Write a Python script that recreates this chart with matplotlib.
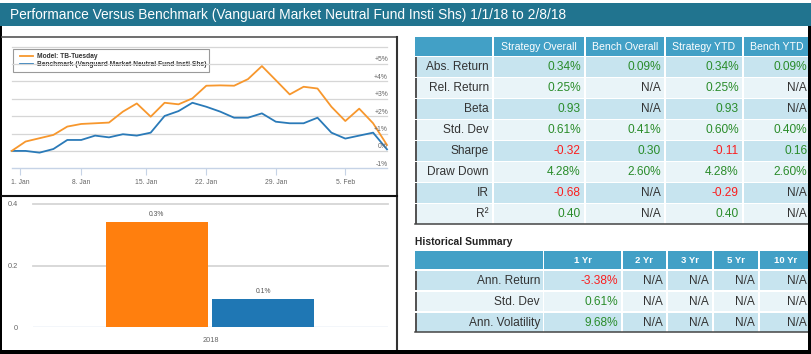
import matplotlib.pyplot as plt
from matplotlib.patches import Rectangle

# ---- data ----
title = "Performance Versus Benchmark (Vanguard Market Neutral Fund Insti Shs) 1/1/18 to 2/8/18"
model_name = "Model: TB-Tuesday"
bench_name = "Benchmark (Vanguard Market Neutral Fund Insti Shs)"

# cumulative return in %, one point per trading day (ordinal axis)
model = [0.0, 0.54, 0.73, 0.92, 1.40, 1.55, 1.59, 1.63, 2.26, 2.73, 1.97, 2.77, 2.68, 3.02,
         3.75, 3.77, 3.75, 4.13, 4.88, 4.07, 3.25, 3.69, 3.59, 2.54, 1.72, 2.43, 1.59, 0.34]
bench = [0.0, 0.0, -0.10, 0.11, 0.63, 0.63, 0.88, 0.78, 0.96, 0.88, 1.05, 2.01, 2.29, 2.77,
         2.54, 2.26, 1.91, 1.91, 2.16, 1.68, 1.59, 1.59, 1.91, 1.05, 0.71, 0.88, 1.05, 0.09]
date_labels = ["1. Jan", "8. Jan", "15. Jan", "22. Jan", "29. Jan", "5. Feb"]
date_pos = [0.6, 5, 9.68, 14, 19, 24]
pct_ticks = [-1, 0, 1, 2, 3, 4, 5]

bar_category = "2018"
bar_values = [0.34, 0.09]
bar_text = ["0.3%", "0.1%"]
bar_ticks = [0, 0.2, 0.4]

stat_header = ["", "Strategy Overall", "Bench Overall", "Strategy YTD", "Bench YTD"]
stat_rows = ["Abs. Return", "Rel. Return", "Beta", "Std. Dev", "Sharpe", "Draw Down", "IR", "R²"]
strategy_overall = ["0.34%", "0.25%", "0.93", "0.61%", "-0.32", "4.28%", "-0.68", "0.40"]
bench_overall = ["0.09%", "N/A", "N/A", "0.41%", "0.30", "2.60%", "N/A", "N/A"]
strategy_ytd = ["0.34%", "0.25%", "0.93", "0.60%", "-0.11", "4.28%", "-0.29", "0.40"]
bench_ytd = ["0.09%", "N/A", "N/A", "0.40%", "0.16", "2.60%", "N/A", "N/A"]

hist_title = "Historical Summary"
hist_header = ["", "1 Yr", "2 Yr", "3 Yr", "5 Yr", "10 Yr"]
hist_rows = ["Ann. Return", "Std. Dev", "Ann. Volatility"]
hist_1yr = ["-3.38%", "0.61%", "9.68%"]
hist_2yr = ["N/A", "N/A", "N/A"]
hist_3yr = ["N/A", "N/A", "N/A"]
hist_5yr = ["N/A", "N/A", "N/A"]
hist_10yr = ["N/A", "N/A", "N/A"]

# ---- style ----
W, H = 812, 354
FONT = "Liberation Sans"
ORANGE_LINE = "#f7972d"
BLUE_LINE = "#2a7ab8"
HEAD = "#42a0c6"
ROW_A = "#c7e4ef"
ROW_B = "#e9f4f8"
GREEN = "#2a8c2a"
RED = "#fb1e1e"
INK = "#333333"
GRID = "#d6d6d6"
AXIS = "#c6d3e6"

plt.rcParams['font.family'] = FONT

fig = plt.figure(figsize=(W / 100, H / 100), dpi=100)


def px_axes(x0, y0, x1, y1, z=1):
    return fig.add_axes([x0 / W, 1 - y1 / H, (x1 - x0) / W, (y1 - y0) / H], zorder=z)


bg = fig.add_axes([0, 0, 1, 1], zorder=0)
bg.set_xlim(0, W)
bg.set_ylim(H, 0)
bg.axis('off')

# title bar
bg.add_patch(Rectangle((0, 2.7), W, 23.5, color="#21748f", lw=0))
bg.text(10, 14.6, title, color="white", fontsize=9.95, va="center", ha="left")

# frame lines
bg.add_patch(Rectangle((0, 26), 2.2, H - 26, color="black", lw=0))
bg.add_patch(Rectangle((808.5, 26), 4, H - 26, color="black", lw=0, zorder=5))
bg.add_patch(Rectangle((0, 349.5), W, 4.5, color="black", lw=0, zorder=5))
bg.plot([2, 397], [36.5, 36.5], color="#555555", lw=1.2)
bg.plot([397, 397], [36.5, 350], color="#333333", lw=1.5)
bg.plot([2, 397], [195.5, 195.5], color="#111111", lw=1.5)

# ---- line chart ----
ax = px_axes(11.7, 46.6, 387, 168.3, z=2)
ax.set_facecolor("none")
x = list(range(len(model)))
for t in range(0, 7):
    ax.axhline(t, color=GRID, lw=0.9, zorder=0, clip_on=False)
ax.axhline(-1, color=AXIS, lw=1.0, zorder=0, clip_on=False)
ax.plot(x, bench, color=BLUE_LINE, lw=1.3, zorder=3, solid_joinstyle="round", clip_on=False)
ax.plot(x, model, color=ORANGE_LINE, lw=1.3, zorder=4, solid_joinstyle="round", clip_on=False)
ax.set_xlim(0, len(model) - 1)
ax.set_ylim(-1, 6)
for s in ax.spines.values():
    s.set_visible(False)
ax.set_yticks([])
ax.set_xticks(date_pos)
ax.set_xticklabels(date_labels, fontsize=4.9, color="#666666")
ax.tick_params(axis="x", length=5, width=0.8, color=AXIS, pad=3)
for t in pct_ticks:
    lab = ("+%d%%" % t) if t > 0 else ("%d%%" % t)
    ax.annotate(lab, xy=(1.0, t), xycoords=("axes fraction", "data"), xytext=(1, 4),
                textcoords="offset pixels", ha="right", va="center", fontsize=4.9,
                color="#666666", zorder=6)

# legend box (drawn in figure pixel space)
bg.add_patch(Rectangle((13, 49), 196, 23, facecolor="white", edgecolor="#9a9a9a", lw=0.8, zorder=3))
bg.plot([20, 33], [56, 56], color=ORANGE_LINE, lw=1.3, zorder=4)
bg.plot([20, 33], [64, 64], color=BLUE_LINE, lw=1.3, zorder=4)
bg.text(37.5, 56, model_name, fontsize=4.8, fontweight="bold", color=INK, va="center", zorder=4)
bg.text(37.5, 64, bench_name, fontsize=4.8, fontweight="bold", color=INK, va="center", zorder=4)

# ---- bar chart ----
bx = px_axes(33, 204, 388, 327)
bx.set_facecolor("none")
bx.set_xlim(-0.5, 0.5)
bx.set_ylim(0, 0.4)
for s in bx.spines.values():
    s.set_visible(False)
for t in bar_ticks[1:]:
    bx.axhline(t, color=GRID, lw=1.3, zorder=0, clip_on=False)
bx.axhline(0, color=AXIS, lw=1.0, zorder=0)
bw = 0.288
offs = [-0.151, 0.148]
colors = ["#ff7f0e", "#1f77b4"]
for v, o, c, lab in zip(bar_values, offs, colors, bar_text):
    bx.bar(o, v, bw, color=c, zorder=2)
    bx.annotate(lab, xy=(o, v), xytext=(0, 4), textcoords="offset pixels",
                ha="center", va="bottom", fontsize=4.9, color="#555555")
bx.set_xticks([0])
bx.set_xticklabels([bar_category], fontsize=5.3, color="#666666")
bx.tick_params(axis="x", length=0, pad=7)
bx.set_yticks(bar_ticks)
bx.set_yticklabels(["0", "0.2", "0.4"], fontsize=5.3, color="#666666")
bx.tick_params(axis="y", length=0, pad=11)


# ---- tables ----
def value_color(s):
    if s == "N/A":
        return INK
    return RED if s.startswith("-") else GREEN


def draw_table(cols, header, labels, columns, head_top, head_h, body_top, pitch, row_h,
               head_size, head_weight):
    for (x0, x1), h in zip(cols, header):
        bg.add_patch(Rectangle((x0, head_top), x1 - x0, head_h, color=HEAD, lw=0, zorder=1))
        if h:
            bg.text((x0 + x1) / 2, head_top + head_h / 2 + 0.5, h, color="white",
                    fontsize=head_size, fontweight=head_weight, ha="center", va="center", zorder=2)
    for i, lab in enumerate(labels):
        y0 = body_top + i * pitch
        fill = ROW_A if i % 2 == 0 else ROW_B
        for (x0, x1) in cols:
            bg.add_patch(Rectangle((x0, y0), x1 - x0, row_h, color=fill, lw=0, zorder=1))
        bg.add_patch(Rectangle((cols[0][0], y0), 1.6, row_h, color="#555555", lw=0, zorder=2))
        yc = y0 + row_h / 2 + 0.4
        bg.text(cols[0][1] - 3, yc, lab, fontsize=8.6, color=INK, ha="right", va="center", zorder=2)
        for (x0, x1), colvals in zip(cols[1:], columns):
            s = colvals[i]
            bg.text(x1 - 3.3, yc, s, fontsize=8.6, color=value_color(s), ha="right",
                    va="center", zorder=2)
    yb = body_top + (len(labels) - 1) * pitch + row_h
    bg.plot([cols[0][0], W], [yb, yb], color="#444444", lw=1.1, zorder=2)


stat_cols = [(415, 492), (494, 584), (586, 664), (666, 742), (744, 810.5)]
draw_table(stat_cols, stat_header, stat_rows,
           [strategy_overall, bench_overall, strategy_ytd, bench_ytd],
           36.7, 19.0, 57.3, 21.0, 19.4, 7.6, "normal")

bg.text(415, 242, hist_title, fontsize=7.4, fontweight="bold", color="#222222", ha="left", va="center")

hist_cols = [(415, 543), (544.5, 621), (623, 666), (668, 712), (714, 758), (760, 810.5)]
draw_table(hist_cols, hist_header, hist_rows,
           [hist_1yr, hist_2yr, hist_3yr, hist_5yr, hist_10yr],
           250.8, 18.2, 271.0, 21.0, 19.4, 6.8, "bold")

fig.savefig("out.png", dpi=100)
